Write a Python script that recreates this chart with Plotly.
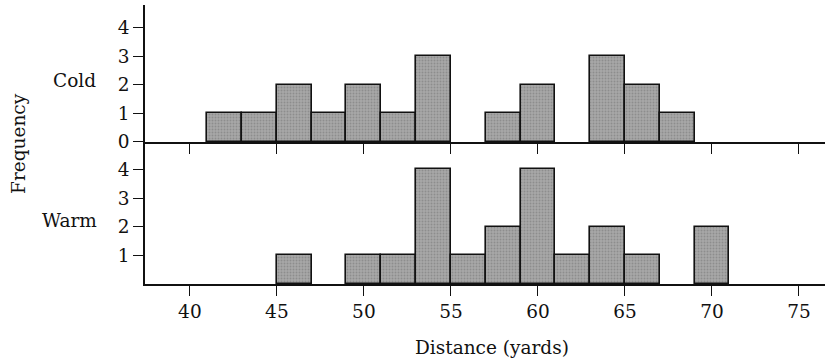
import plotly.graph_objects as go

bin_centers = [42, 44, 46, 48, 50, 52, 54, 56, 58, 60, 62, 64, 66, 68, 70]
cold_counts = [1, 1, 2, 1, 2, 1, 3, 0, 1, 2, 0, 3, 2, 1, 0]
warm_counts = [0, 0, 1, 0, 1, 1, 4, 1, 2, 4, 1, 2, 1, 0, 2]
x_ticks = [40, 45, 50, 55, 60, 65, 70, 75]
panel_labels = ["Cold", "Warm"]

FONT = "DejaVu Serif"
BAR_FILL = "#9c9c9c"
TXT = dict(family=FONT, size=18.5, color="#111")

def bars(counts, yaxis):
    return go.Bar(
        x=bin_centers, y=counts, width=2, yaxis=yaxis, xaxis="x" if yaxis == "y" else "x2",
        marker=dict(color=BAR_FILL,
                    line=dict(color="#111", width=[1.6 if c > 0 else 0 for c in counts]),
                    pattern=dict(shape=".", size=3, solidity=0.35, fgcolor="#727272", bgcolor="#a8a8a8")),
        showlegend=False, hoverinfo="skip",
    )

fig = go.Figure()
fig.add_trace(bars(warm_counts, "y"))
fig.add_trace(bars(cold_counts, "y2"))

axis_common = dict(showline=True, linecolor="#111", linewidth=1.6, ticks="outside",
                   ticklen=10, tickwidth=1.4, tickcolor="#111", showgrid=False, zeroline=False,
                   tickfont=TXT)

fig.update_layout(
    width=832, height=361,
    margin=dict(l=145, r=7, t=5, b=77),
    paper_bgcolor="white", plot_bgcolor="white",
    bargap=0,
    xaxis=dict(range=[37.42, 76.5], tickvals=x_ticks, anchor="y", **axis_common),
    xaxis2=dict(range=[37.42, 76.5], tickvals=x_ticks, anchor="y2", showticklabels=False,
                matches="x", **axis_common),
    yaxis=dict(domain=[0, 0.509], range=[0, 4.96], tickvals=[1, 2, 3, 4], anchor="x", **axis_common),
    yaxis2=dict(domain=[0.509, 1], range=[0, 4.8], tickvals=[0, 1, 2, 3, 4], anchor="x2", **axis_common),
    annotations=[
        dict(text=panel_labels[0], xref="paper", yref="paper", x=-0.069, y=0.731,
             xanchor="right", yanchor="middle", showarrow=False, font=TXT),
        dict(text=panel_labels[1], xref="paper", yref="paper", x=-0.067, y=0.226,
             xanchor="right", yanchor="middle", showarrow=False, font=TXT),
        dict(text="Frequency", xref="paper", yref="paper", x=-0.187, y=0.505,
             xanchor="center", yanchor="middle", textangle=-90, showarrow=False, font=TXT),
        dict(text="Distance (yards)", xref="paper", yref="paper", x=0.51, y=-0.229,
             xanchor="center", yanchor="middle", showarrow=False, font=TXT),
    ],
)

fig.write_html("out.html", config={"displayModeBar": False},
               post_script="document.body.style.margin='0';")
